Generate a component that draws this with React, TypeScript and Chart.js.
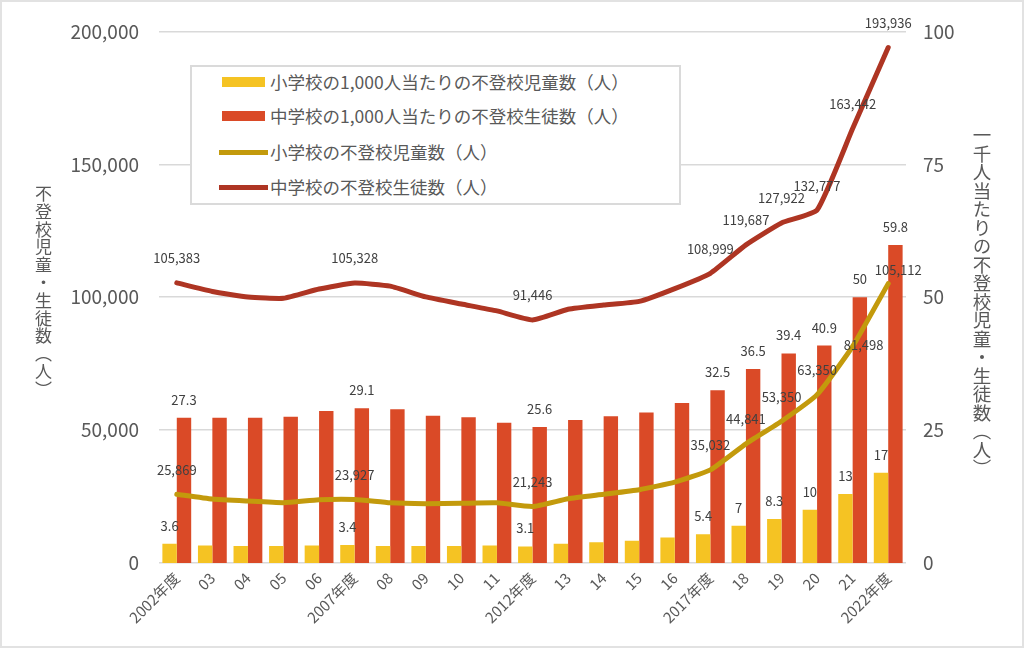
import React, { useEffect, useRef } from 'react';
import { Chart, registerables } from 'chart.js';

Chart.register(...registerables);

const categories = [
  '2002年度', '03', '04', '05', '06', '2007年度', '08', '09', '10', '11',
  '2012年度', '13', '14', '15', '16', '2017年度', '18', '19', '20', '21', '2022年度',
];

const elemPer1000 = [3.6, 3.3, 3.2, 3.2, 3.3, 3.4, 3.2, 3.2, 3.2, 3.3, 3.1, 3.6, 3.9, 4.2, 4.8, 5.4, 7, 8.3, 10, 13, 17];
const juniorPer1000 = [27.3, 27.3, 27.3, 27.5, 28.6, 29.1, 28.9, 27.7, 27.4, 26.4, 25.6, 26.9, 27.6, 28.3, 30.1, 32.5, 36.5, 39.4, 40.9, 50, 59.8];
const elemCount = [25869, 24077, 23318, 22709, 23825, 23927, 22652, 22327, 22463, 22622, 21243, 24175, 25864, 27583, 30448, 35032, 44841, 53350, 63350, 81498, 105112];
const juniorCount = [105383, 102149, 100040, 99578, 103069, 105328, 104153, 100105, 97428, 94836, 91446, 95442, 97033, 98408, 103235, 108999, 119687, 127922, 132777, 163442, 193936];

const labelIndices = [0, 5, 10, 15, 16, 17, 18, 19, 20];

const seriesLabels = [
  '小学校の1,000人当たりの不登校児童数（人）',
  '中学校の1,000人当たりの不登校生徒数（人）',
  '小学校の不登校児童数（人）',
  '中学校の不登校生徒数（人）',
];
const leftTicks = [0, 50000, 100000, 150000, 200000];
const rightTicks = [0, 25, 50, 75, 100];
const leftTitle = '不登校児童・生徒数（人）';
const rightTitle = '一千人当たりの不登校児童・生徒数（人）';

const COLORS = {
  elemBar: '#F5C323',
  juniorBar: '#DA4A27',
  elemLine: '#C39A0C',
  juniorLine: '#AE3523',
};

const FONT = "'Noto Sans CJK JP', 'Noto Sans', sans-serif";

const fmtRate = (v: number) => (Number.isInteger(v) ? String(v) : v.toFixed(1));
const fmtCount = (v: number) => v.toLocaleString('en-US');

const labelCfg: { fmt: (v: number) => string; offset: number; nudge: Record<number, [number, number]> }[] = [
  { fmt: fmtRate, offset: 18, nudge: {} },
  { fmt: fmtRate, offset: 18, nudge: {} },
  { fmt: fmtCount, offset: 24.5, nudge: { 19: [11, 23], 20: [10, 11] } },
  { fmt: fmtCount, offset: 24.5, nudge: {} },
];

const valueLabelPlugin = {
  id: 'valueLabels',
  afterDatasetsDraw(chart: any) {
    const ctx = chart.ctx;
    ctx.save();
    ctx.font = `13px ${FONT}`;
    ctx.fillStyle = '#404040';
    ctx.textAlign = 'center';
    ctx.textBaseline = 'middle';
    chart.data.datasets.forEach((ds: any, di: number) => {
      const meta = chart.getDatasetMeta(di);
      const cfg = labelCfg[di];
      labelIndices.forEach((i) => {
        const el = meta.data[i];
        if (!el) return;
        const n = cfg.nudge[i] || [0, 0];
        ctx.fillText(cfg.fmt(ds.data[i]), el.x + n[0], el.y - cfg.offset + n[1]);
      });
    });
    ctx.restore();
  },
};

export default function App() {
  const ref = useRef<HTMLCanvasElement | null>(null);

  useEffect(() => {
    if (!ref.current) return;
    Chart.defaults.font.family = FONT;
    const chart = new Chart(ref.current, {
      type: 'bar',
      data: {
        labels: categories,
        datasets: [
          {
            type: 'bar',
            label: seriesLabels[0],
            data: elemPer1000,
            backgroundColor: COLORS.elemBar,
            yAxisID: 'yR',
            order: 2,
            barPercentage: 1,
            categoryPercentage: 0.81,
          },
          {
            type: 'bar',
            label: seriesLabels[1],
            data: juniorPer1000,
            backgroundColor: COLORS.juniorBar,
            yAxisID: 'yR',
            order: 2,
            barPercentage: 1,
            categoryPercentage: 0.81,
          },
          {
            type: 'line',
            label: seriesLabels[2],
            data: elemCount,
            borderColor: COLORS.elemLine,
            backgroundColor: COLORS.elemLine,
            borderWidth: 5,
            pointRadius: 0,
            tension: 0.15,
            borderJoinStyle: 'round',
            borderCapStyle: 'round',
            yAxisID: 'yL',
            order: 0,
          },
          {
            type: 'line',
            label: seriesLabels[3],
            data: juniorCount,
            borderColor: COLORS.juniorLine,
            backgroundColor: COLORS.juniorLine,
            borderWidth: 5,
            pointRadius: 0,
            tension: 0.15,
            borderJoinStyle: 'round',
            borderCapStyle: 'round',
            yAxisID: 'yL',
            order: 0,
          },
        ] as any,
      },
      options: {
        responsive: false,
        animation: false,
        devicePixelRatio: 1,
        layout: { padding: { top: 24, right: 0, bottom: 0, left: 0 } },
        plugins: {
          legend: { display: false },
          tooltip: { enabled: false },
        },
        scales: {
          x: {
            offset: true,
            grid: { display: false, drawTicks: false },
            border: { display: false },
            ticks: {
              color: '#595959',
              font: { size: 15 },
              maxRotation: 45,
              minRotation: 45,
              autoSkip: false,
              padding: 6,
            },
            afterFit: (s: any) => {
              s.height = 85;
            },
          },
          yL: {
            position: 'left',
            min: 0,
            max: 200000,
            afterBuildTicks: (s: any) => {
              s.ticks = leftTicks.map((v) => ({ value: v }));
            },
            grid: { color: '#d9d9d9', lineWidth: 1.5, drawTicks: false },
            border: { display: false },
            ticks: {
              color: '#595959',
              font: { size: 19 },
              padding: 20,
              callback: (v: any) => Number(v).toLocaleString('en-US'),
            },
            afterFit: (s: any) => {
              s.width = 159;
            },
          },
          yR: {
            position: 'right',
            min: 0,
            max: 100,
            afterBuildTicks: (s: any) => {
              s.ticks = rightTicks.map((v) => ({ value: v }));
            },
            grid: { display: false, drawTicks: false },
            border: { display: false },
            ticks: {
              color: '#595959',
              font: { size: 19 },
              padding: 17,
            },
            afterFit: (s: any) => {
              s.width = 118;
            },
          },
        },
      } as any,
      plugins: [valueLabelPlugin],
    });
    return () => chart.destroy();
  }, []);

  const legendRows = [
    { label: seriesLabels[0], color: COLORS.elemBar, bar: true },
    { label: seriesLabels[1], color: COLORS.juniorBar, bar: true },
    { label: seriesLabels[2], color: COLORS.elemLine, bar: false },
    { label: seriesLabels[3], color: COLORS.juniorLine, bar: false },
  ];
  const rowCenters = [17, 51, 87, 122];

  return (
    <div
      style={{
        position: 'fixed',
        left: 0,
        top: 0,
        width: 1024,
        height: 648,
        background: '#fff',
        overflow: 'hidden',
        fontFamily: FONT,
      }}
    >
      <canvas ref={ref} width={1024} height={648} style={{ position: 'absolute', left: 0, top: 0 }} />
      <div
        style={{
          position: 'absolute',
          left: 34,
          top: 185,
          writingMode: 'vertical-rl',
          fontSize: 17,
          letterSpacing: '0.8px',
          color: '#595959',
          lineHeight: '18px',
        }}
      >
        {leftTitle}
      </div>
      <div
        style={{
          position: 'absolute',
          left: 972,
          top: 126,
          writingMode: 'vertical-rl',
          fontSize: 18.5,
          color: '#595959',
          lineHeight: '20px',
        }}
      >
        {rightTitle}
      </div>
      <div
        style={{
          position: 'absolute',
          left: 190,
          top: 65,
          width: 491,
          height: 140,
          boxSizing: 'border-box',
          border: '2px solid #dadada',
          background: '#fff',
        }}
      >
        {legendRows.map((r, i) => (
          <div key={i}>
            <div
              style={{
                position: 'absolute',
                left: r.bar ? 30 : 27,
                top: rowCenters[i] - (r.bar ? 5 : 2.5) - 2,
                width: r.bar ? 43 : 49,
                height: r.bar ? 10 : 5,
                background: r.color,
              }}
            />
            <div
              style={{
                position: 'absolute',
                left: 78,
                top: rowCenters[i] - 14,
                height: 24,
                lineHeight: '24px',
                fontSize: 17.5,
                color: '#595959',
                whiteSpace: 'nowrap',
              }}
            >
              {r.label}
            </div>
          </div>
        ))}
      </div>
      <div
        style={{
          position: 'absolute',
          left: 0,
          top: 0,
          width: 1024,
          height: 648,
          boxSizing: 'border-box',
          border: '2px solid #e2e2e2',
          pointerEvents: 'none',
        }}
      />
    </div>
  );
}
